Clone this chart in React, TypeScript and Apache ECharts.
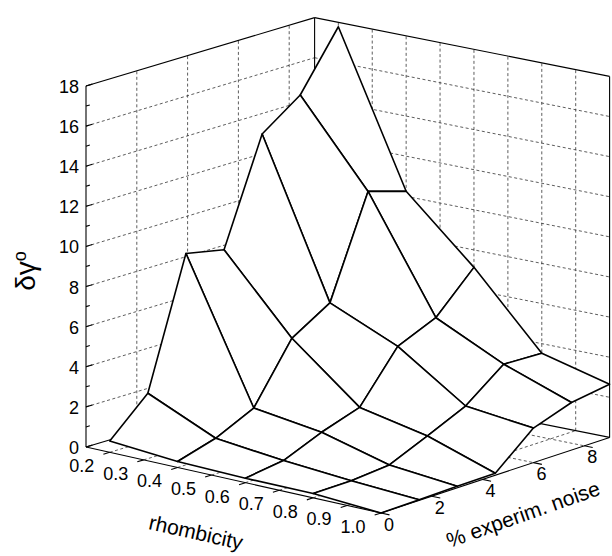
import React, { useEffect, useRef } from "react";
import * as echarts from "echarts";

// ---------------- data ----------------
const rhombicity = [0.2, 0.4, 0.6, 0.8, 1.0];
const noisePct = [0, 1.5, 3, 4.5, 6, 7.5, 9];
// delta-gamma (deg) for each rhombicity row, along noisePct
const dGammaR02 = [0.56, 2.37, 8.77, 8.38, 13.58, 14.95, 17.78];
const dGammaR04 = [0.3, 0.87, 1.79, 4.68, 5.86, 10.83, 10.25];
const dGammaR06 = [0.22, 0.5, 1.31, 1.95, 4.39, 5.22, 7.13];
const dGammaR08 = [0.22, 0.24, 0.41, 1.24, 2.12, 3.59, 3.52];
const dGammaR10 = [0.0, 0.03, 0.08, 0.1, 1.72, 2.37, 2.65];
const dGamma = [dGammaR02, dGammaR04, dGammaR06, dGammaR08, dGammaR10];

const zTicks = [0, 2, 4, 6, 8, 10, 12, 14, 16, 18];
const rTicks = [0.2, 0.3, 0.4, 0.5, 0.6, 0.7, 0.8, 0.9, 1.0];
const nTicks = [0, 2, 4, 6, 8];

// axis ranges
const R_MIN = 0.13;
const R_MAX = 1.0;
const N_MIN = 0;
const N_MAX = 9;
const Z_MIN = 0;
const Z_MAX = 18;

// ---------------- layout (screen px) ----------------
const CORNER_O = [86, 447]; // (R_MIN, N_MIN) floor
const CORNER_F = [381, 513]; // (R_MAX, N_MIN) floor
const CORNER_R = [609.6, 437.4]; // (R_MAX, N_MAX) floor
const CORNER_B = [314.6, 378.6]; // (R_MIN, N_MAX) floor
const BOX_HEIGHT = 361;
const FONT = "'Liberation Sans', Arial, sans-serif";

function project(r: number, n: number, z: number): number[] {
  const u = (r - R_MIN) / (R_MAX - R_MIN);
  const v = (n - N_MIN) / (N_MAX - N_MIN);
  const w = (z - Z_MIN) / (Z_MAX - Z_MIN);
  const x =
    (1 - u) * (1 - v) * CORNER_O[0] +
    u * (1 - v) * CORNER_F[0] +
    u * v * CORNER_R[0] +
    (1 - u) * v * CORNER_B[0];
  const y =
    (1 - u) * (1 - v) * CORNER_O[1] +
    u * (1 - v) * CORNER_F[1] +
    u * v * CORNER_R[1] +
    (1 - u) * v * CORNER_B[1] -
    w * BOX_HEIGHT;
  return [x, y];
}

// segments: [r1, n1, z1, r2, n2, z2, kind]  kind: 0 solid, 1 dashed
function backSegments(): number[][] {
  const s: number[][] = [];
  const zGrid = zTicks.filter((z) => z > Z_MIN && z < Z_MAX);
  const nGrid = nTicks.filter((n) => n > N_MIN && n < N_MAX);
  const rGrid = rTicks.filter((r) => r > R_MIN && r < R_MAX - 1e-9);
  // left wall (r = R_MIN)
  zGrid.forEach((z) => s.push([R_MIN, N_MIN, z, R_MIN, N_MAX, z, 1]));
  nGrid.forEach((n) => s.push([R_MIN, n, Z_MIN, R_MIN, n, Z_MAX, 1]));
  // right wall (n = N_MAX)
  zGrid.forEach((z) => s.push([R_MIN, N_MAX, z, R_MAX, N_MAX, z, 1]));
  rGrid.forEach((r) => s.push([r, N_MAX, Z_MIN, r, N_MAX, Z_MAX, 1]));
  // floor
  rGrid.forEach((r) => s.push([r, N_MIN, Z_MIN, r, N_MAX, Z_MIN, 1]));
  nGrid.forEach((n) => s.push([R_MIN, n, Z_MIN, R_MAX, n, Z_MIN, 1]));
  // solid back edges
  s.push([R_MIN, N_MIN, Z_MAX, R_MIN, N_MAX, Z_MAX, 0]);
  s.push([R_MIN, N_MAX, Z_MAX, R_MAX, N_MAX, Z_MAX, 0]);
  s.push([R_MIN, N_MAX, Z_MIN, R_MIN, N_MAX, Z_MAX, 0]);
  s.push([R_MAX, N_MAX, Z_MIN, R_MAX, N_MAX, Z_MAX, 0]);
  s.push([R_MIN, N_MIN, Z_MIN, R_MIN, N_MAX, Z_MIN, 0]);
  s.push([R_MIN, N_MAX, Z_MIN, R_MAX, N_MAX, Z_MIN, 0]);
  return s;
}

function frontSegments(): number[][] {
  const s: number[][] = [];
  s.push([R_MIN, N_MIN, Z_MIN, R_MIN, N_MIN, Z_MAX, 0]);
  s.push([R_MIN, N_MIN, Z_MIN, R_MAX, N_MIN, Z_MIN, 0]);
  s.push([R_MAX, N_MIN, Z_MIN, R_MAX, N_MAX, Z_MIN, 0]);
  zTicks.forEach((z) => s.push([R_MIN, N_MIN, z, R_MIN, N_MIN + 0.25, z, 0]));
  for (let i = 0; i < zTicks.length - 1; i++) {
    const zm = (zTicks[i] + zTicks[i + 1]) / 2;
    s.push([R_MIN, N_MIN, zm, R_MIN, N_MIN + 0.15, zm, 0]);
  }
  rTicks.forEach((r) => s.push([r, N_MIN, Z_MIN, r, N_MIN - 0.25, Z_MIN, 0]));
  nTicks.forEach((n) => s.push([R_MAX, n, Z_MIN, R_MAX + 0.025, n, Z_MIN, 0]));
  return s;
}

function surfaceQuads(): number[][] {
  const q: number[][] = [];
  for (let i = 0; i < rhombicity.length - 1; i++) {
    for (let j = 0; j < noisePct.length - 1; j++) {
      const r0 = rhombicity[i], r1 = rhombicity[i + 1];
      const n0 = noisePct[j], n1 = noisePct[j + 1];
      const uc = ((r0 + r1) / 2 - R_MIN) / (R_MAX - R_MIN);
      const vc = ((n0 + n1) / 2 - N_MIN) / (N_MAX - N_MIN);
      q.push([
        r0, n0, r1, n1,
        dGamma[i][j], dGamma[i + 1][j], dGamma[i + 1][j + 1], dGamma[i][j + 1],
        uc - vc,
      ]);
    }
  }
  q.sort((a, b) => a[8] - b[8]);
  return q;
}

const segRender = (params: any, api: any) => {
  const a = project(api.value(0), api.value(1), api.value(2));
  const b = project(api.value(3), api.value(4), api.value(5));
  const dashed = api.value(6) === 1;
  return {
    type: "line",
    shape: { x1: a[0], y1: a[1], x2: b[0], y2: b[1] },
    style: {
      stroke: dashed ? "#333" : "#000",
      lineWidth: dashed ? 0.8 : 1.1,
      lineDash: dashed ? [3, 2.5] : null,
      fill: null,
    },
  };
};

export default function App() {
  const ref = useRef<HTMLDivElement>(null);
  useEffect(() => {
    document.body.style.margin = "0";
    if (!ref.current) return;
    const chart = echarts.init(ref.current, null, { renderer: "svg" });
    const quads = surfaceQuads();
    const option: any = {
      animation: false,
      backgroundColor: "#fff",
      series: [
        {
          type: "custom",
          coordinateSystem: "none",
          silent: true,
          z: 1,
          data: backSegments(),
          renderItem: segRender,
        },
        {
          type: "custom",
          coordinateSystem: "none",
          silent: true,
          z: 2,
          data: quads,
          renderItem: (params: any, api: any) => {
            const r0 = api.value(0), n0 = api.value(1), r1 = api.value(2), n1 = api.value(3);
            const p00 = project(r0, n0, api.value(4));
            const p10 = project(r1, n0, api.value(5));
            const p11 = project(r1, n1, api.value(6));
            const p01 = project(r0, n1, api.value(7));
            return {
              type: "polygon",
              z2: params.dataIndex,
              shape: { points: [p00, p10, p11, p01] },
              style: { fill: "#fff", stroke: "#000", lineWidth: 1.6, lineJoin: "round" },
            };
          },
        },
        {
          type: "custom",
          coordinateSystem: "none",
          silent: true,
          z: 3,
          data: frontSegments(),
          renderItem: segRender,
        },
        {
          type: "custom",
          coordinateSystem: "none",
          silent: true,
          z: 4,
          data: zTicks.map((v) => [v]),
          renderItem: (params: any, api: any) => {
            const v = api.value(0);
            const p = project(R_MIN, N_MIN, v);
            return {
              type: "text",
              x: p[0] - 7,
              y: p[1] + 1,
              style: { text: String(v), fill: "#000", fontSize: 18, fontFamily: FONT, align: "right", verticalAlign: "middle" },
            };
          },
        },
        {
          type: "custom",
          coordinateSystem: "none",
          silent: true,
          z: 4,
          data: rTicks.map((v) => [v]),
          renderItem: (params: any, api: any) => {
            const v = api.value(0);
            const p = project(v, N_MIN, Z_MIN);
            return {
              type: "text",
              x: p[0] - 28,
              y: p[1] + 14,
              style: { text: v.toFixed(1), fill: "#000", fontSize: 18, fontFamily: FONT, align: "center", verticalAlign: "middle" },
            };
          },
        },
        {
          type: "custom",
          coordinateSystem: "none",
          silent: true,
          z: 4,
          data: nTicks.map((v) => [v]),
          renderItem: (params: any, api: any) => {
            const v = api.value(0);
            const p = project(R_MAX, v, Z_MIN);
            return {
              type: "text",
              x: p[0] + 8,
              y: p[1] + 11.5,
              style: { text: String(v), fill: "#000", fontSize: 18, fontFamily: FONT, align: "center", verticalAlign: "middle" },
            };
          },
        },
      ],
      graphic: [
        {
          type: "text",
          x: 196,
          y: 532,
          rotation: -0.22,
          style: { text: "rhombicity", fill: "#000", fontSize: 21, fontFamily: FONT, align: "center", verticalAlign: "middle" },
        },
        {
          type: "text",
          x: 523,
          y: 514,
          rotation: 0.34,
          style: { text: "% experim. noise", fill: "#000", fontSize: 21, fontFamily: FONT, align: "center", verticalAlign: "middle" },
        },
        {
          type: "text",
          x: 25,
          y: 271,
          rotation: Math.PI / 2,
          style: {
            text: "{a|δγ}{b|o}",
            align: "center",
            verticalAlign: "middle",
            rich: {
              a: { fontSize: 28, fontFamily: FONT, fill: "#000" },
              b: { fontSize: 18, fontFamily: FONT, fill: "#000", verticalAlign: "top" },
            },
          },
        },
      ],
    };
    chart.setOption(option);
    return () => chart.dispose();
  }, []);
  return <div ref={ref} style={{ width: 612, height: 556 }} />;
}
